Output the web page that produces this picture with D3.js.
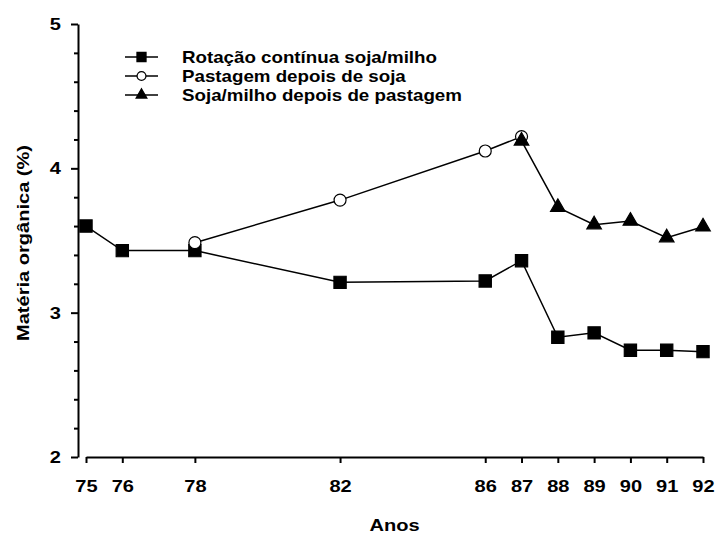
<!DOCTYPE html>
<html>
<head>
<meta charset="utf-8">
<script src="https://cdn.jsdelivr.net/npm/d3@7"></script>
<style>
  body { margin: 0; background: #fff; }
  text { font-family: "Liberation Sans", Arial, sans-serif; font-weight: bold; fill: #000; }
</style>
</head>
<body>
<div id="chart"></div>
<script>
// chart data
var years = [75, 76, 78, 82, 86, 87, 88, 89, 90, 91, 92];
var yMajor = [2, 3, 4, 5];
var yMinor = [2.2, 2.4, 2.6, 2.8, 3.2, 3.4, 3.6, 3.8, 4.2, 4.4, 4.6, 4.8];

var rotacaoYears = [75, 76, 78, 82, 86, 87, 88, 89, 90, 91, 92];
var rotacaoValues = [3.60, 3.43, 3.43, 3.21, 3.22, 3.36, 2.83, 2.86, 2.74, 2.74, 2.73];

var pastagemYears = [78, 82, 86, 87];
var pastagemValues = [3.485, 3.78, 4.12, 4.22];

var sojaYears = [87, 88, 89, 90, 91, 92];
var sojaValues = [4.19, 3.73, 3.61, 3.635, 3.52, 3.595];

var seriesNames = ["Rotação contínua soja/milho", "Pastagem depois de soja", "Soja/milho depois de pastagem"];

// svg size
var W = 715, H = 536;
var stretch = 1.18; // the original font is wider than Arial
var svg = d3.select("#chart").append("svg").attr("width", W).attr("height", H);

// scales
var x = d3.scaleLinear().domain([75, 92]).range([86, 703]);
var y = d3.scaleLinear().domain([2, 5]).range([457, 24]);
var axisX = 78; // y axis sits left of the x range

function zip(xs, vs) {
  return xs.map(function(d, i) { return { x: d, v: vs[i] }; });
}
var series = [
  { name: seriesNames[0], data: zip(rotacaoYears, rotacaoValues), shape: d3.symbolSquare, fill: "#000", size: 150 },
  { name: seriesNames[1], data: zip(pastagemYears, pastagemValues), shape: d3.symbolCircle, fill: "#fff", size: 113 },
  { name: seriesNames[2], data: zip(sojaYears, sojaValues), shape: d3.symbolTriangle, fill: "#000", size: 92 }
];

// y axis with major and minor ticks
var gy = svg.append("g").attr("transform", "translate(" + axisX + ",0)");
gy.call(d3.axisLeft(y).tickValues(yMajor).tickSize(7).tickSizeOuter(0).tickFormat(d3.format("d")));
gy.append("g").call(d3.axisLeft(y).tickValues(yMinor).tickSize(4).tickSizeOuter(0).tickFormat(""))
  .select(".domain").remove();
gy.selectAll("path.domain").attr("stroke-width", 2);
gy.selectAll("line").attr("stroke-width", 2);
gy.selectAll("text").style("font-size", "17px")
  .attr("x", -17 / stretch).attr("transform", "scale(" + stretch + ",1)");

// x axis
var gx = svg.append("g").attr("transform", "translate(0," + y(2) + ")");
gx.call(d3.axisBottom(x).tickValues(years).tickSize(6).tickSizeOuter(0).tickFormat(d3.format("d")));
gx.selectAll("path.domain").attr("stroke-width", 2);
gx.selectAll("line").attr("stroke-width", 2);
gx.selectAll("text").style("font-size", "17px").attr("y", 23)
  .attr("transform", "scale(" + stretch + ",1)");

// axis titles
svg.append("text").attr("transform", "translate(" + ((86 + 703) / 2) + ",531) scale(" + stretch + ",1)")
  .attr("text-anchor", "middle").style("font-size", "17px").text("Anos");
svg.append("text").attr("transform", "translate(29,243) rotate(-90) scale(" + stretch + ",1)")
  .attr("text-anchor", "middle").style("font-size", "17px").text("Matéria orgânica (%)");

// lines and markers
var line = d3.line().x(function(d) { return x(d.x); }).y(function(d) { return y(d.v); });
series.forEach(function(s) {
  svg.append("path").datum(s.data).attr("d", line)
    .attr("fill", "none").attr("stroke", "#000").attr("stroke-width", 1.5);
});
series.forEach(function(s) {
  svg.selectAll(null).data(s.data).enter().append("path")
    .attr("d", d3.symbol().type(s.shape).size(s.size))
    .attr("transform", function(d) { return "translate(" + x(d.x) + "," + y(d.v) + ")"; })
    .attr("fill", s.fill).attr("stroke", "#000").attr("stroke-width", 1.2);
});

// legend
var legend = svg.append("g").attr("transform", "translate(125,57)");
series.forEach(function(s, i) {
  var g = legend.append("g").attr("transform", "translate(0," + (i * 19) + ")");
  g.append("line").attr("x1", 0).attr("x2", 33).attr("y1", 0).attr("y2", 0)
    .attr("stroke", "#000").attr("stroke-width", 1.5);
  g.append("path").attr("d", d3.symbol().type(s.shape).size(s.size * 0.55))
    .attr("transform", "translate(16.5,0)")
    .attr("fill", s.fill).attr("stroke", "#000").attr("stroke-width", 1.2);
  g.append("text").attr("transform", "translate(57,6) scale(1.15,1)")
    .style("font-size", "16.3px").text(s.name);
});
</script>
</body>
</html>
